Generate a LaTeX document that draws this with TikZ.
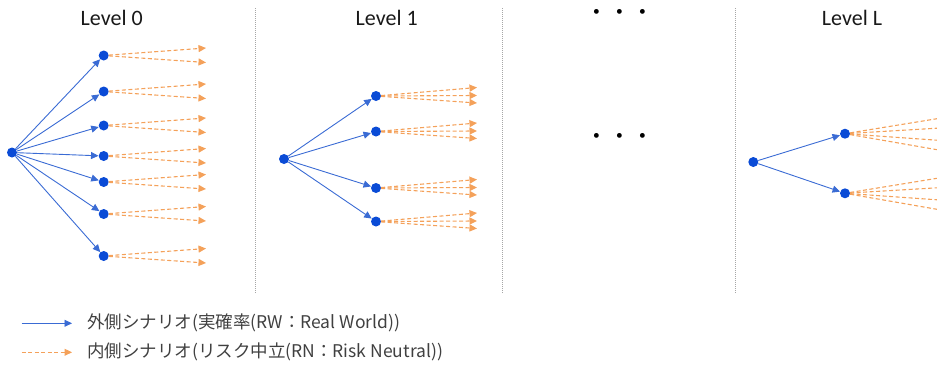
\documentclass[tikz,border=0pt]{standalone}
\usepackage{fontspec}
\setmainfont{Carlito}
\newfontfamily\cjk{Noto Sans CJK JP}
\usetikzlibrary{arrows.meta}
\definecolor{dotblue}{HTML}{0A4BD6}
\definecolor{lineblue}{HTML}{3A6BD4}
\definecolor{rnorange}{HTML}{F4A15A}
\definecolor{txtgray}{HTML}{404040}
\definecolor{divgray}{HTML}{A6A6A6}
\begin{document}
\begin{tikzpicture}[x=1pt,y=-1pt,
  pt/.style={circle,fill=dotblue,inner sep=0pt,minimum size=10pt},
  rw/.style={draw=lineblue,line width=0.9pt,-{Triangle[length=7.5pt,width=7pt]}},
  rn/.style={draw=rnorange,line width=1.1pt,dash pattern=on 4pt off 2.5pt,-{Triangle[length=7.5pt,width=7pt]}},
  rnl/.style={draw=rnorange,line width=1.1pt,dash pattern=on 4pt off 2.5pt},
  divider/.style={draw=divgray,line width=1pt,dash pattern=on 1pt off 1pt},
  heading/.style={font=\fontsize{22}{26}\selectfont,text=black!90,inner sep=0pt,anchor=base},
  legend/.style={font=\cjk\fontsize{17.5}{21}\selectfont,text=txtgray,inner sep=0pt,anchor=west},
  ellip/.style={font=\cjk\fontsize{22.7}{26}\selectfont,inner sep=0pt}]
\useasboundingbox (0,0) rectangle (937,367);

% headings
\node[heading] (h0) at (111.7,25) {Level 0};
\node[heading] (h1) at (386.7,25) {Level 1};
\node[heading] (hL) at (852,25) {Level L};
\node[ellip] (e1) at (620,15) {・・・};
\node[ellip] (e2) at (620,139) {・・・};

% dividers
\foreach \n/\x in {1/255.7,2/502.7,3/735.5} {
  \coordinate (d\n t) at (\x,8);
  \coordinate (d\n b) at (\x,293);
  \draw[divider] (d\n t) -- (d\n b);
}

% Level 0
\node[pt] (r0) at (12,152.5) {};
\foreach \i/\y in {1/55.5,2/91.5,3/125.5,4/156,5/182,6/214,7/256} {
  \node[pt] (a\i) at (103.7,\y) {};
  \draw[rw] (r0) -- (a\i);
  \coordinate (a\i u) at (206,\y-7.5);
  \coordinate (a\i d) at (206,\y+7);
  \draw[rn] (a\i) -- (a\i u);
  \draw[rn] (a\i) -- (a\i d);
}

% Level 1
\node[pt] (r1) at (284,159) {};
\foreach \i/\y in {1/96,2/131.5,3/188,4/221.5} {
  \node[pt] (b\i) at (376,\y) {};
  \draw[rw] (r1) -- (b\i);
  \coordinate (b\i u) at (477,\y-8.5);
  \coordinate (b\i m) at (477,\y-0.5);
  \coordinate (b\i d) at (477,\y+7);
  \draw[rn] (b\i) -- (b\i u);
  \draw[rn] (b\i) -- (b\i m);
  \draw[rn] (b\i) -- (b\i d);
}

% Level L
\node[pt] (rL) at (753.3,162) {};
\foreach \i/\y in {1/133.7,2/193.3} {
  \node[pt] (c\i) at (845,\y) {};
  \draw[rw] (rL) -- (c\i);
  \coordinate (c\i p) at (937,\y-15);
  \coordinate (c\i q) at (937,\y-5.5);
  \coordinate (c\i r) at (937,\y+6.5);
  \coordinate (c\i s) at (937,\y+16);
  \draw[rnl] (c\i) -- (c\i p);
  \draw[rnl] (c\i) -- (c\i q);
  \draw[rnl] (c\i) -- (c\i r);
  \draw[rnl] (c\i) -- (c\i s);
}

% legend
\coordinate (l1s) at (21.7,323.3);
\coordinate (l1e) at (72,323.3);
\draw[rw] (l1s) -- (l1e);
\node[legend] (l1) at (87,323.3) {外側シナリオ(実確率(RW：Real World))};
\coordinate (l2s) at (21.7,352.3);
\coordinate (l2e) at (72,352.3);
\draw[rn] (l2s) -- (l2e);
\node[legend] (l2) at (87,352.3) {内側シナリオ(リスク中立(RN：Risk Neutral))};
\end{tikzpicture}
\end{document}
